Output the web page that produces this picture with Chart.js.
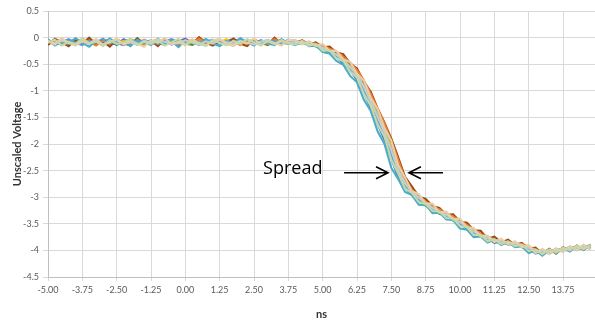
<!DOCTYPE html>
<html>
<head>
<meta charset="utf-8">
<script src="https://cdn.jsdelivr.net/npm/chart.js@4.4.1/dist/chart.umd.min.js"></script>
<style>
  html, body { margin: 0; padding: 0; background: #fff; }
  #wrap { width: 595px; height: 321px; }
</style>
</head>
<body>
<div id="wrap"><canvas id="chart" width="595" height="321"></canvas></div>
<script>
// time axis, ns
const timeNs = [
  -5.00,-4.75,-4.50,-4.25,-4.00,-3.75,-3.50,-3.25,-3.00,-2.75,
  -2.50,-2.25,-2.00,-1.75,-1.50,-1.25,-1.00,-0.75,-0.50,-0.25,
   0.00, 0.25, 0.50, 0.75, 1.00, 1.25, 1.50, 1.75, 2.00, 2.25,
   2.50, 2.75, 3.00, 3.25, 3.50, 3.75, 4.00, 4.25, 4.50, 4.75,
   5.00, 5.25, 5.50, 5.75, 6.00, 6.25, 6.50, 6.75, 7.00, 7.25,
   7.50, 7.75, 8.00, 8.25, 8.50, 8.75, 9.00, 9.25, 9.50, 9.75,
  10.00,10.25,10.50,10.75,11.00,11.25,11.50,11.75,12.00,12.25,
  12.50,12.75,13.00,13.25,13.50,13.75,14.00,14.25,14.50,14.75
];

// captured traces (unscaled voltage)
const trace1 = [
  -0.05,-0.12,-0.08,-0.03,-0.10,-0.14,-0.06,-0.09,-0.02,-0.11,-0.07,-0.13,-0.04,-0.08,-0.10,-0.05,-0.12,-0.07,-0.03,-0.09,
  -0.11,-0.06,-0.14,-0.08,-0.04,-0.10,-0.07,-0.12,-0.05,-0.09,-0.03,-0.11,-0.08,-0.06,-0.13,-0.07,
  -0.10,-0.12,-0.12,-0.17,-0.22,-0.27,-0.37,-0.46,-0.62,-0.78,-1.01,-1.30,-1.58,-1.88,-2.24,-2.58,-2.80,-2.94,-3.05,-3.14,
  -3.24,-3.29,-3.36,-3.43,-3.50,-3.57,-3.68,-3.73,-3.79,-3.84,-3.82,-3.88,-3.86,-3.93,-3.97,-4.04,-4.00,-4.05,-3.98,-4.01,
  -3.94,-3.98,-3.92,-3.96
];
const trace2 = [
  -0.09,-0.04,-0.13,-0.07,-0.11,-0.02,-0.08,-0.15,-0.06,-0.10,-0.03,-0.09,-0.12,-0.05,-0.14,-0.08,-0.04,-0.11,-0.07,-0.13,
  -0.06,-0.10,-0.02,-0.09,-0.12,-0.05,-0.11,-0.08,-0.14,-0.04,-0.10,-0.07,-0.12,-0.03,-0.09,-0.06,
  -0.07,-0.10,-0.09,-0.12,-0.15,-0.21,-0.26,-0.36,-0.47,-0.61,-0.80,-1.06,-1.34,-1.62,-1.94,-2.30,-2.66,-2.86,-2.98,-3.08,
  -3.18,-3.23,-3.31,-3.36,-3.45,-3.52,-3.61,-3.69,-3.74,-3.80,-3.85,-3.83,-3.89,-3.88,-3.93,-3.98,-4.05,-3.99,-4.03,-3.96,
  -3.99,-3.93,-3.97,-3.90
];
const trace3 = [
  -0.12,-0.07,-0.10,-0.05,-0.13,-0.09,-0.03,-0.11,-0.08,-0.14,-0.06,-0.10,-0.07,-0.12,-0.04,-0.09,-0.13,-0.06,-0.10,-0.05,
  -0.08,-0.12,-0.07,-0.03,-0.10,-0.13,-0.06,-0.09,-0.11,-0.07,-0.12,-0.05,-0.10,-0.08,-0.04,-0.11,
  -0.09,-0.07,-0.12,-0.13,-0.19,-0.23,-0.33,-0.40,-0.56,-0.71,-0.91,-1.22,-1.47,-1.80,-2.09,-2.47,-2.76,-2.89,-3.03,-3.10,
  -3.22,-3.26,-3.34,-3.38,-3.48,-3.54,-3.66,-3.70,-3.78,-3.80,-3.84,-3.84,-3.88,-3.89,-3.96,-3.99,-4.03,-4.01,-4.01,-3.97,
  -3.97,-3.94,-3.95,-3.94
];
const trace4 = [
  -0.06,-0.10,-0.04,-0.12,-0.08,-0.05,-0.11,-0.07,-0.13,-0.04,-0.09,-0.06,-0.11,-0.02,-0.08,-0.12,-0.07,-0.10,-0.05,-0.14,
  -0.08,-0.04,-0.10,-0.12,-0.06,-0.09,-0.03,-0.11,-0.07,-0.13,-0.05,-0.09,-0.06,-0.11,-0.08,-0.10,
  -0.06,-0.11,-0.10,-0.15,-0.17,-0.26,-0.30,-0.44,-0.53,-0.72,-0.90,-1.18,-1.45,-1.76,-2.06,-2.44,-2.72,-2.91,-3.00,-3.12,
  -3.19,-3.28,-3.32,-3.41,-3.46,-3.56,-3.63,-3.72,-3.76,-3.82,-3.82,-3.86,-3.86,-3.91,-3.94,-4.01,-4.02,-4.03,-4.00,-3.99,
  -3.95,-3.96,-3.93,-3.92
];
const trace5 = [
  -0.10,-0.06,-0.14,-0.08,-0.04,-0.11,-0.07,-0.12,-0.05,-0.09,-0.13,-0.03,-0.10,-0.07,-0.11,-0.06,-0.09,-0.14,-0.04,-0.08,
  -0.12,-0.07,-0.05,-0.11,-0.09,-0.14,-0.06,-0.03,-0.10,-0.12,-0.08,-0.13,-0.05,-0.09,-0.11,-0.04,
  -0.11,-0.08,-0.13,-0.16,-0.21,-0.29,-0.35,-0.49,-0.60,-0.80,-1.04,-1.33,-1.62,-1.92,-2.28,-2.62,-2.82,-2.96,-3.06,-3.16,
  -3.22,-3.31,-3.35,-3.44,-3.49,-3.60,-3.66,-3.75,-3.77,-3.86,-3.83,-3.89,-3.87,-3.94,-3.96,-4.06,-4.01,-4.06,-3.99,-4.02,
  -3.95,-3.99,-3.93,-3.97
];
const trace6 = [
  -0.08,-0.13,-0.05,-0.10,-0.07,-0.12,-0.09,-0.04,-0.11,-0.06,-0.14,-0.08,-0.03,-0.10,-0.12,-0.07,-0.05,-0.13,-0.09,-0.06,
  -0.11,-0.14,-0.08,-0.05,-0.12,-0.07,-0.10,-0.04,-0.13,-0.08,-0.06,-0.10,-0.14,-0.07,-0.09,-0.12,
  -0.08,-0.10,-0.11,-0.14,-0.18,-0.22,-0.31,-0.41,-0.52,-0.67,-0.88,-1.14,-1.42,-1.72,-2.02,-2.40,-2.70,-2.88,-3.02,-3.09,
  -3.21,-3.25,-3.35,-3.37,-3.47,-3.53,-3.64,-3.69,-3.78,-3.79,-3.85,-3.83,-3.87,-3.88,-3.95,-3.98,-4.03,-4.00,-4.02,-3.96,
  -3.98,-3.93,-3.95,-3.91
];
const trace7 = [
  -0.11,-0.05,-0.09,-0.13,-0.06,-0.10,-0.04,-0.12,-0.08,-0.03,-0.10,-0.14,-0.07,-0.11,-0.05,-0.09,-0.12,-0.04,-0.13,-0.07,
  -0.02,-0.10,-0.12,-0.06,-0.08,-0.11,-0.13,-0.07,-0.04,-0.10,-0.09,-0.06,-0.12,-0.05,-0.10,-0.08,
  -0.05,-0.12,-0.08,-0.15,-0.20,-0.24,-0.34,-0.43,-0.58,-0.74,-0.97,-1.25,-1.52,-1.83,-2.16,-2.52,-2.78,-2.92,-3.04,-3.13,
  -3.18,-3.30,-3.31,-3.42,-3.45,-3.58,-3.62,-3.74,-3.75,-3.85,-3.81,-3.87,-3.85,-3.92,-3.93,-4.03,-3.99,-4.04,-3.97,-4.00,
  -3.93,-3.97,-3.91,-3.95
];
const trace8 = [
  -0.07,-0.11,-0.06,-0.09,-0.12,-0.04,-0.10,-0.08,-0.13,-0.07,-0.05,-0.11,-0.09,-0.14,-0.06,-0.10,-0.03,-0.08,-0.12,-0.10,
  -0.05,-0.09,-0.13,-0.07,-0.11,-0.04,-0.09,-0.12,-0.06,-0.10,-0.13,-0.08,-0.04,-0.12,-0.07,-0.09,
  -0.09,-0.09,-0.12,-0.13,-0.19,-0.25,-0.32,-0.42,-0.56,-0.70,-0.93,-1.20,-1.49,-1.78,-2.12,-2.50,-2.74,-2.90,-3.01,-3.11,
  -3.20,-3.27,-3.33,-3.40,-3.47,-3.55,-3.64,-3.71,-3.77,-3.81,-3.83,-3.85,-3.87,-3.90,-3.95,-4.00,-4.02,-4.02,-4.00,-3.98,
  -3.96,-3.95,-3.94,-3.93
];
const trace9 = [
  -0.14,-0.02,-0.09,-0.16,-0.05,-0.11,0.00,-0.13,-0.07,-0.17,-0.04,-0.10,-0.15,-0.01,-0.12,-0.06,-0.16,-0.03,-0.09,-0.14,
  -0.05,-0.12,0.01,-0.10,-0.15,-0.06,-0.13,-0.02,-0.11,-0.16,-0.04,-0.09,-0.13,0.00,-0.12,-0.07,
  -0.11,-0.05,-0.13,-0.09,-0.18,-0.17,-0.28,-0.31,-0.49,-0.58,-0.83,-1.02,-1.33,-1.60,-1.90,-2.25,-2.62,-2.80,-2.99,-3.03,
  -3.17,-3.20,-3.33,-3.32,-3.46,-3.48,-3.62,-3.63,-3.78,-3.74,-3.85,-3.80,-3.90,-3.86,-3.97,-3.95,-4.07,-3.97,-4.06,-3.94,
  -4.01,-3.91,-3.99,-3.89
];
const trace10 = [
  -0.03,-0.15,-0.08,-0.12,-0.01,-0.10,-0.17,-0.06,-0.13,-0.02,-0.11,-0.08,-0.16,-0.04,-0.09,-0.14,-0.02,-0.12,-0.07,-0.18,
  -0.05,-0.10,-0.13,-0.03,-0.11,-0.16,-0.07,-0.12,-0.01,-0.09,-0.15,-0.05,-0.11,-0.14,-0.03,-0.10,
  -0.14,-0.07,-0.16,-0.15,-0.27,-0.30,-0.44,-0.51,-0.72,-0.84,-1.17,-1.38,-1.76,-2.00,-2.45,-2.66,-2.90,-2.96,-3.14,-3.15,
  -3.30,-3.29,-3.42,-3.43,-3.59,-3.61,-3.75,-3.74,-3.85,-3.80,-3.90,-3.84,-3.94,-3.92,-4.05,-4.00,-4.10,-3.99,-4.05,-3.96,
  -4.02,-3.92,-3.99,-3.90
];
const trace11 = [
  -0.06,-0.13,-0.01,-0.10,-0.15,-0.07,-0.12,-0.03,-0.14,-0.09,-0.02,-0.13,-0.06,-0.11,-0.17,-0.05,-0.10,-0.01,-0.12,-0.08,
  -0.15,-0.03,-0.11,-0.14,-0.06,-0.02,-0.12,-0.16,-0.07,-0.11,-0.02,-0.14,-0.06,-0.10,-0.15,-0.04,
  -0.05,-0.13,-0.07,-0.16,-0.12,-0.25,-0.25,-0.41,-0.46,-0.68,-0.81,-1.13,-1.34,-1.70,-1.94,-2.40,-2.63,-2.89,-2.94,-3.12,
  -3.12,-3.29,-3.27,-3.42,-3.40,-3.57,-3.58,-3.74,-3.72,-3.84,-3.78,-3.89,-3.83,-3.94,-3.90,-4.05,-3.97,-4.07,-3.96,-4.03,
  -3.92,-4.00,-3.89,-3.98
];
const trace12 = [
  -0.10,-0.04,-0.15,-0.08,-0.13,-0.02,-0.11,-0.07,-0.16,-0.05,-0.12,-0.09,-0.03,-0.14,-0.08,-0.12,-0.05,-0.15,-0.09,-0.02,
  -0.13,-0.07,-0.11,-0.16,-0.04,-0.10,-0.14,-0.06,-0.12,-0.03,-0.09,-0.15,-0.07,-0.12,-0.05,-0.11,
  -0.13,-0.06,-0.15,-0.12,-0.24,-0.24,-0.39,-0.44,-0.64,-0.75,-1.06,-1.28,-1.63,-1.86,-2.30,-2.55,-2.84,-2.92,-3.09,-3.13,
  -3.26,-3.27,-3.39,-3.40,-3.54,-3.56,-3.71,-3.71,-3.83,-3.79,-3.88,-3.83,-3.92,-3.89,-4.01,-3.98,-4.07,-3.98,-4.04,-3.95,
  -4.00,-3.91,-3.98,-3.90
];

// first in list is drawn on top
const traces = [trace12, trace11, trace8, trace10, trace1, trace2, trace9, trace3, trace4, trace5, trace6, trace7];
const traceColors = ['#C5D9A8', '#E8CFA8', '#BFCFD9', '#4BACC6', '#5B9BD5', '#ED7D31', '#9E480E',
                     '#A5A5A5', '#FFC000', '#4472C4', '#70AD47', '#8064A2'];

// "Spread" callout, in data units
const spreadLabelAt = { x: 2.83, y: -2.56 };
const spreadArrowY = -2.54;
const arrowRight = { from: 5.78, to: 7.38 };
const arrowLeft = { from: 9.38, to: 8.14 };

const tickFont = { family: 'Lato, "Open Sans", sans-serif', size: 9 };
const titleFont = { family: 'Lato, "Open Sans", sans-serif', size: 11, weight: 'bold' };

const spreadPlugin = {
    id: 'spread',
    afterDatasetsDraw(chart) {
        const ctx = chart.ctx;
        const xs = chart.scales.x;
        const ys = chart.scales.y;
        ctx.save();
        ctx.fillStyle = '#000';
        ctx.font = '18px "Open Sans", Lato, sans-serif';
        ctx.textBaseline = 'alphabetic';
        ctx.fillText('Spread', xs.getPixelForValue(spreadLabelAt.x), ys.getPixelForValue(spreadLabelAt.y));

        const yy = ys.getPixelForValue(spreadArrowY);
        ctx.strokeStyle = '#000';
        ctx.lineWidth = 1.6;
        [arrowRight, arrowLeft].forEach(function(a) {
            const x0 = xs.getPixelForValue(a.from);
            const x1 = xs.getPixelForValue(a.to);
            const dir = x1 > x0 ? 1 : -1;
            ctx.beginPath();
            ctx.moveTo(x0, yy);
            ctx.lineTo(x1, yy);
            ctx.moveTo(x1 - dir * 12, yy - 6);
            ctx.lineTo(x1, yy);
            ctx.lineTo(x1 - dir * 12, yy + 6);
            ctx.stroke();
        });
        ctx.restore();
    }
};

new Chart(document.getElementById('chart'), {
    type: 'line',
    data: {
        datasets: traces.map(function(t, i) {
            return {
                data: timeNs.map(function(x, j) { return { x: x, y: t[j] }; }),
                borderColor: traceColors[i],
                borderWidth: 2.1,
                pointRadius: 0,
                tension: 0,
                fill: false
            };
        })
    },
    options: {
        responsive: false,
        animation: false,
        layout: { padding: { top: 11, left: 0, right: 0, bottom: 0 } },
        plugins: {
            legend: { display: false },
            tooltip: { enabled: false }
        },
        scales: {
            x: {
                type: 'linear',
                min: -5,
                max: 14.915,
                afterFit: function(scale) { scale.height = 44; },
                ticks: {
                    stepSize: 1.25,
                    includeBounds: false,
                    padding: 4,
                    color: '#595959',
                    font: tickFont,
                    maxRotation: 0,
                    autoSkip: false,
                    callback: function(v) { return v.toFixed(2); }
                },
                grid: { color: '#d9d9d9', tickLength: 4 },
                border: { color: '#bfbfbf' },
                title: { display: true, text: 'ns', color: '#333', font: titleFont, padding: { top: 3, bottom: 0 } }
            },
            y: {
                min: -4.5,
                max: 0.5,
                afterFit: function(scale) { scale.width = 48; },
                ticks: {
                    stepSize: 0.5,
                    padding: 4,
                    color: '#595959',
                    font: tickFont,
                    callback: function(v) { return String(Math.round(v * 10) / 10); }
                },
                grid: { color: '#d9d9d9', tickLength: 5 },
                border: { color: '#bfbfbf' },
                title: { display: true, text: 'Unscaled Voltage', color: '#333', font: titleFont, padding: { top: 11, bottom: 0 } }
            }
        }
    },
    plugins: [spreadPlugin]
});
</script>
</body>
</html>
